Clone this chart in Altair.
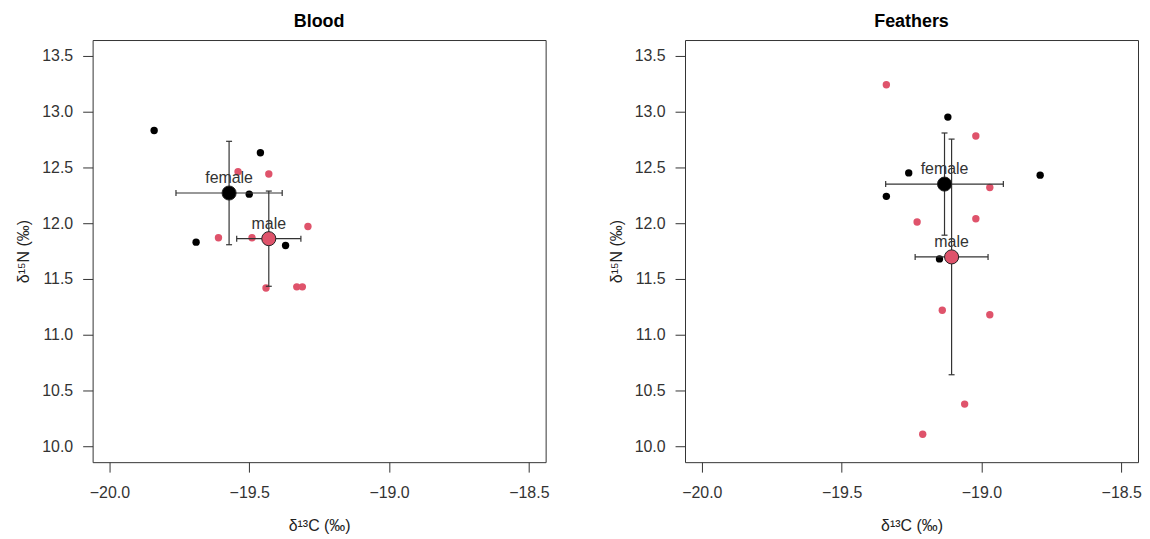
import altair as alt
import pandas as pd

# ---- data ----
panels = ["Blood", "Feathers"]
sexes = ["female", "male"]
sex_colors = ["#000000", "#DF536B"]

blood_female_d13C = [-19.84, -19.46, -19.50, -19.69, -19.37]
blood_female_d15N = [12.83, 12.63, 12.26, 11.83, 11.80]
blood_male_d13C = [-19.54, -19.43, -19.61, -19.49, -19.29, -19.44, -19.33, -19.31]
blood_male_d15N = [12.46, 12.44, 11.87, 11.87, 11.97, 11.42, 11.43, 11.43]

feathers_female_d13C = [-19.12, -19.26, -19.34, -18.79, -19.15]
feathers_female_d15N = [12.95, 12.45, 12.24, 12.43, 11.68]
feathers_male_d13C = [-19.34, -19.02, -18.97, -19.02, -19.23, -19.14, -18.97, -19.06, -19.21]
feathers_male_d15N = [13.24, 12.78, 12.32, 12.04, 12.01, 11.22, 11.18, 10.38, 10.11]

x_ticks = [-20.0, -19.5, -19.0, -18.5]
y_ticks = [10.0, 10.5, 11.0, 11.5, 12.0, 12.5, 13.0, 13.5]
x_domain = [-20.06, -18.44]
y_domain = [9.86, 13.64]

x_title = "δ¹³C (‰)"
y_title = "δ¹⁵N (‰)"

series = {
    ("Blood", "female"): (blood_female_d13C, blood_female_d15N),
    ("Blood", "male"): (blood_male_d13C, blood_male_d15N),
    ("Feathers", "female"): (feathers_female_d13C, feathers_female_d15N),
    ("Feathers", "male"): (feathers_male_d13C, feathers_male_d15N),
}
rows = []
for (tissue, sex), (xs, ys) in series.items():
    for xv, yv in zip(xs, ys):
        rows.append({"tissue": tissue, "sex": sex, "d13C": xv, "d15N": yv})
df = pd.DataFrame(rows)

FONT = "Liberation Sans"
LINE = "#333333"

xscale = alt.Scale(domain=x_domain, nice=False, zero=False)
yscale = alt.Scale(domain=y_domain, nice=False, zero=False)
xaxis = alt.Axis(values=x_ticks, format=".1f", labelFlush=False, labelPadding=12,
                 titlePadding=18)
yaxis = alt.Axis(values=y_ticks, format=".1f", labelPadding=10, titlePadding=10)
color = alt.Color("sex:N", scale=alt.Scale(domain=sexes, range=sex_colors), legend=None)


def X(field):
    return alt.X(field, type="quantitative", scale=xscale, axis=xaxis, title=x_title)


def Y(field):
    return alt.Y(field, type="quantitative", scale=yscale, axis=yaxis, title=y_title)


def panel(name):
    base = alt.Chart(df).transform_filter(alt.datum.tissue == name)
    pts = base.mark_circle(size=55, opacity=1).encode(x=X("d13C"), y=Y("d15N"), color=color)
    stats = base.transform_aggregate(
        mx="mean(d13C)", sx="stdev(d13C)", my="mean(d15N)", sy="stdev(d15N)",
        groupby=["sex"],
    ).transform_calculate(
        xlo="datum.mx - datum.sx", xhi="datum.mx + datum.sx",
        ylo="datum.my - datum.sy", yhi="datum.my + datum.sy",
    )
    hbar = stats.mark_rule(color=LINE, strokeWidth=1.2).encode(
        x=X("xlo"), x2=alt.X2("xhi"), y=Y("my"))
    vbar = stats.mark_rule(color=LINE, strokeWidth=1.2).encode(
        x=X("mx"), y=Y("ylo"), y2=alt.Y2("yhi"))
    hcap_lo = stats.mark_rule(color=LINE, strokeWidth=1.2, yOffset=-3, y2Offset=3).encode(
        x=X("xlo"), y=Y("my"), y2=alt.Y2("my"))
    hcap_hi = stats.mark_rule(color=LINE, strokeWidth=1.2, yOffset=-3, y2Offset=3).encode(
        x=X("xhi"), y=Y("my"), y2=alt.Y2("my"))
    vcap_lo = stats.mark_rule(color=LINE, strokeWidth=1.2, xOffset=-3, x2Offset=3).encode(
        x=X("mx"), x2=alt.X2("mx"), y=Y("ylo"))
    vcap_hi = stats.mark_rule(color=LINE, strokeWidth=1.2, xOffset=-3, x2Offset=3).encode(
        x=X("mx"), x2=alt.X2("mx"), y=Y("yhi"))
    means = stats.mark_circle(size=200, opacity=1, stroke="#222222", strokeWidth=1).encode(
        x=X("mx"), y=Y("my"), color=color)
    labels = stats.mark_text(dy=-10, baseline="alphabetic", fontSize=16, font=FONT,
                             color="#333333").encode(x=X("mx"), y=Y("my"), text="sex:N")
    return alt.layer(pts, hbar, vbar, hcap_lo, hcap_hi, vcap_lo, vcap_hi, means, labels).properties(
        width=455, height=424,
        title=alt.Title(name, fontSize=18, fontWeight="bold", font=FONT, color="#000000",
                        offset=9),
    )


chart = alt.hconcat(panel(panels[0]), panel(panels[1]), spacing=58).properties(
    padding={"left": 7, "top": 3, "right": 0, "bottom": 0}
).configure_view(
    stroke=LINE, strokeWidth=1
).configure_axis(
    grid=False, domain=False, tickSize=10, tickColor=LINE, tickWidth=1,
    labelFont=FONT, labelFontSize=16, labelColor="#333333",
    titleFont=FONT, titleFontSize=16, titleFontWeight="normal", titleColor="#222222",
)

chart.save("out.html", embed_options={"renderer": "svg", "actions": False})
